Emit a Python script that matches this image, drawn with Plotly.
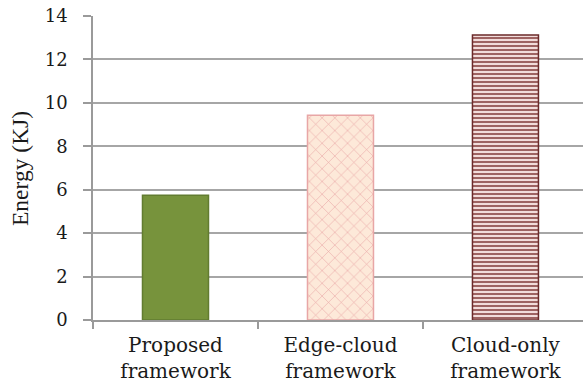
import plotly.graph_objects as go

categories = ["Proposed<br>framework", "Edge-cloud<br>framework", "Cloud-only<br>framework"]
energy = [5.75, 9.43, 13.13]
y_ticks = [0, 2, 4, 6, 8, 10, 12, 14]
y_title = "Energy (KJ)"

fill_colors = ["#77933C", "#FDE9D9", "#F2DCDB"]
line_colors = ["#627C30", "#E8A6A6", "#6B2A2A"]
pattern_shapes = ["", "x", "-"]
pattern_fg = ["#77933C", "#E8A3A3", "#7A2E2E"]
pattern_size = [8, 9, 4]
pattern_sol = [0.2, 0.12, 0.35]

fig = go.Figure()
for i, (c, v) in enumerate(zip(categories, energy)):
    fig.add_trace(go.Bar(
        x=[c], y=[v], width=0.4,
        marker=dict(
            color=fill_colors[i],
            line=dict(color=line_colors[i], width=1.5),
            pattern=dict(shape=pattern_shapes[i], bgcolor=fill_colors[i],
                         fgcolor=pattern_fg[i], size=pattern_size[i],
                         solidity=pattern_sol[i], fillmode="replace"),
        ),
        showlegend=False,
    ))

fig.update_layout(
    width=583, height=388,
    margin=dict(l=93, r=0, t=16, b=68),
    paper_bgcolor="white", plot_bgcolor="white",
    bargap=0.6,
    font=dict(family="Liberation Serif", size=20, color="#1a1a1a"),
)
fig.add_annotation(
    text=y_title, textangle=-90, showarrow=False,
    xref="paper", yref="paper", x=0, y=0.5, xanchor="center", yanchor="middle",
    xshift=-73, yshift=-1,
    font=dict(family="Liberation Serif", size=23.5, color="#1a1a1a"),
)
fig.update_xaxes(
    type="category", categoryorder="array", categoryarray=categories,
    range=[-0.5, 2.47],
    showline=True, linecolor="#9A9A9A", linewidth=1.5,
    ticks="outside", tickson="boundaries", ticklen=7, tickcolor="#9A9A9A", tickwidth=1.5,
    showgrid=False,
    ticklabelstandoff=6,
    tickfont=dict(family="DejaVu Serif", size=20, color="#1a1a1a"),
)
fig.update_yaxes(
    range=[0, 14], tickvals=y_ticks,
    showline=True, linecolor="#9A9A9A", linewidth=1.5,
    ticks="outside", ticklen=8, tickcolor="#9A9A9A", tickwidth=1.5,
    showgrid=True, gridcolor="#A6A6A6", gridwidth=1.5,
    zeroline=False,
    ticklabelstandoff=12,
    tickfont=dict(family="DejaVu Serif", size=18, color="#1a1a1a"),
)

fig.write_html("out.html")
